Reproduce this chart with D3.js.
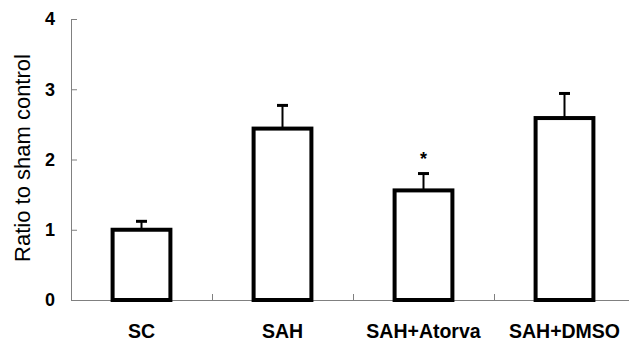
<!DOCTYPE html>
<html>
<head>
<meta charset="utf-8">
<script src="https://cdn.jsdelivr.net/npm/d3@7"></script>
<style>
	body { margin: 0; background: #fff; }
	text { font-family: "Liberation Sans", Arial, sans-serif; }
</style>
</head>
<body>
<svg id="chart" width="629" height="345"></svg>
<script>
var categories = ["SC", "SAH", "SAH+Atorva", "SAH+DMSO"];
var means = [1.0, 2.44, 1.56, 2.59];
var errors = [0.12, 0.33, 0.24, 0.35];
var marks = ["", "", "*", ""];
var yTicks = [0, 1, 2, 3, 4];

var svg = d3.select('#chart'),
	mLeft = 71, mRight = 635, mTop = 19, mBottom = 300;

var x = d3.scaleBand().domain(categories).range([mLeft, mRight]);
var y = d3.scaleLinear().domain([0, 4]).range([mBottom, mTop]);
var barW = x.bandwidth() * 0.41;

var data = categories.map(function (c, i) {
	return { name: c, mean: means[i], err: errors[i], mark: marks[i] };
});

// y axis, ticks pointing inside
var yAxis = svg.append("g")
	.attr("transform", "translate(" + mLeft + ",0)")
	.call(d3.axisLeft(y).tickValues(yTicks).tickSize(-6).tickSizeOuter(0).tickPadding(16).tickFormat(d3.format("d")));
yAxis.select(".domain").attr("stroke", "#808080");
yAxis.selectAll(".tick line").attr("stroke", "#808080");
yAxis.selectAll(".tick text")
	.attr("font-size", 18).attr("font-weight", "bold").attr("fill", "#000")
	.attr("font-family", "Liberation Sans, Arial, sans-serif");

// x axis line to the edge
svg.append("line")
	.attr("x1", mLeft).attr("x2", 629)
	.attr("y1", mBottom + 0.5).attr("y2", mBottom + 0.5)
	.attr("stroke", "#808080");

// tick marks between categories
svg.selectAll(".xtick")
	.data(categories.slice(1))
	.enter().append("line")
	.attr("x1", function (d) { return Math.round(x(d)) + 0.5; })
	.attr("x2", function (d) { return Math.round(x(d)) + 0.5; })
	.attr("y1", mBottom).attr("y2", mBottom - 6)
	.attr("stroke", "#808080");

svg.selectAll(".xlbl")
	.data(categories)
	.enter().append("text")
	.attr("x", function (d) { return x(d) + x.bandwidth() / 2; })
	.attr("y", 338)
	.attr("text-anchor", "middle")
	.attr("font-size", 19.5).attr("font-weight", "bold")
	.text(function (d) { return d; });

// error bars (drawn first so bar top covers the base)
var eb = svg.selectAll(".err").data(data).enter().append("g");
eb.append("line")
	.attr("x1", function (d) { return x(d.name) + x.bandwidth() / 2; })
	.attr("x2", function (d) { return x(d.name) + x.bandwidth() / 2; })
	.attr("y1", function (d) { return y(d.mean); })
	.attr("y2", function (d) { return y(d.mean + d.err); })
	.attr("stroke", "#000").attr("stroke-width", 2);
eb.append("line")
	.attr("x1", function (d) { return x(d.name) + x.bandwidth() / 2 - 5.5; })
	.attr("x2", function (d) { return x(d.name) + x.bandwidth() / 2 + 5.5; })
	.attr("y1", function (d) { return y(d.mean + d.err); })
	.attr("y2", function (d) { return y(d.mean + d.err); })
	.attr("stroke", "#000").attr("stroke-width", 3);

svg.selectAll(".bar")
	.data(data)
	.enter().append("rect")
	.attr("x", function (d) { return x(d.name) + (x.bandwidth() - barW) / 2; })
	.attr("width", barW)
	.attr("y", function (d) { return y(d.mean); })
	.attr("height", function (d) { return y(0) - y(d.mean); })
	.attr("fill", "#fff")
	.attr("stroke", "#000")
	.attr("stroke-width", 4);

svg.selectAll(".mark")
	.data(data.filter(function (d) { return d.mark; }))
	.enter().append("text")
	.attr("x", function (d) { return x(d.name) + x.bandwidth() / 2; })
	.attr("y", function (d) { return y(d.mean + d.err) - 9; })
	.attr("text-anchor", "middle")
	.attr("font-size", 18).attr("font-weight", "bold")
	.text(function (d) { return d.mark; });

svg.append("text")
	.attr("transform", "translate(30,158) rotate(-90)")
	.attr("text-anchor", "middle")
	.attr("font-size", 22)
	.text("Ratio to sham control");
</script>
</body>
</html>
